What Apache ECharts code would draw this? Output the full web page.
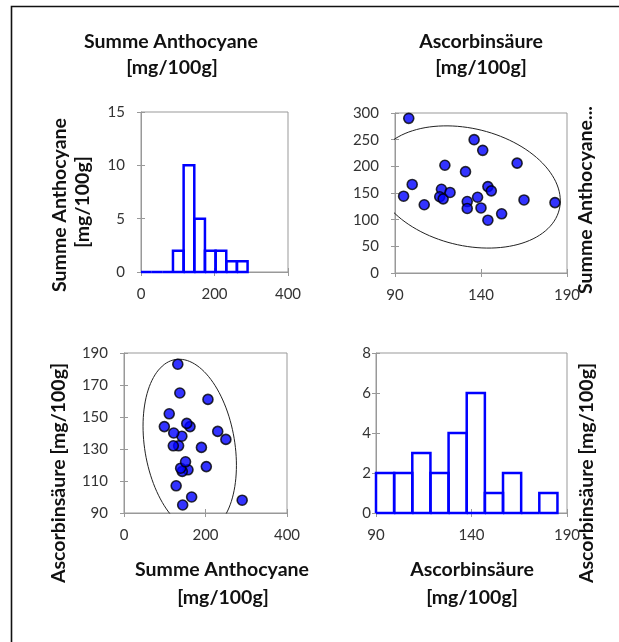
<!DOCTYPE html>
<html>
<head>
<meta charset="utf-8">
<script src="https://cdn.jsdelivr.net/npm/echarts@6/dist/echarts.min.js"></script>
<style>
  html, body { margin: 0; padding: 0; background: #fff; }
  #chart { width: 619px; height: 642px; }
</style>
</head>
<body>
<div id="chart"></div>
<script>
// one value pair per sample
const anthocyane = [290, 144, 166, 128, 157, 143, 139, 202, 151, 190, 134, 121,
                    250, 142, 122, 230, 162, 99, 154, 111, 206, 137, 132];
const ascorbin = [98, 95, 100, 107, 117, 116, 118, 119, 122, 131, 132, 132,
                  136, 138, 140, 141, 144, 144, 146, 152, 161, 165, 183];

// histogram bins (edges) and counts as drawn on the diagonal
const anthEdges = [0, 29, 58, 87, 116, 145, 174, 203, 232, 261, 290];
const anthCounts = [0, 0, 0, 2, 10, 5, 2, 2, 1, 1];
const ascEdges = [90, 99.5, 109, 118.5, 128, 137.5, 147, 156.5, 166, 175.5, 185];
const ascCounts = [2, 2, 3, 2, 4, 6, 1, 2, 0, 1];

// axis ranges per panel: [min, max, interval]
const anthRange = [0, 400, 200];
const ascRange = [90, 190, 50];
const ascRangeY = [90, 190, 20];
const anthRangeY = [0, 300, 50];
const anthCountRange = [0, 15, 5];
const ascCountRange = [0, 8, 2];

const FONT = "Lato";
const GRAY = "#999";
const LABEL = "#333";

// 95% confidence ellipse from mean and covariance of the samples
const ellipse = (xs, ys) => {
    const n = xs.length;
    const mx = xs.reduce((a, b) => a + b, 0) / n;
    const my = ys.reduce((a, b) => a + b, 0) / n;
    let sxx = 0, syy = 0, sxy = 0;
    for (let i = 0; i < n; i++) {
        sxx += (xs[i] - mx) ** 2;
        syy += (ys[i] - my) ** 2;
        sxy += (xs[i] - mx) * (ys[i] - my);
    }
    sxx /= n - 1; syy /= n - 1; sxy /= n - 1;
    const k = Math.sqrt(5.991);
    const l11 = Math.sqrt(sxx), l21 = sxy / l11, l22 = Math.sqrt(syy - l21 * l21);
    const pts = [];
    for (let i = 0; i <= 120; i++) {
        const t = i / 120 * 2 * Math.PI;
        const c = Math.cos(t), s = Math.sin(t);
        pts.push([mx + k * l11 * c, my + k * (l21 * c + l22 * s)]);
    }
    return pts;
};

const histData = (edges, counts) => counts.map((c, i) => [edges[i], edges[i + 1], c]);

const renderBin = (params, api) => {
    const x0 = api.value(0), x1 = api.value(1), c = api.value(2);
    const p = (x, y) => api.coord([x, y]);
    return {
        type: "polyline",
        shape: { points: [p(x0, 0), p(x0, c), p(x1, c), p(x1, 0), p(x0, 0)] },
        style: { fill: null, stroke: "#0000ff", lineWidth: 2.5 }
    };
};

// main axis: line, outside ticks, labels
const axisMain = (grid, range, pos, margin) => ({
    type: "value", gridIndex: grid, position: pos,
    min: range[0], max: range[1], interval: range[2],
    axisLine: { show: true, lineStyle: { color: GRAY, width: 1 } },
    axisTick: { show: true, inside: false, length: 4, lineStyle: { color: GRAY } },
    splitLine: { show: false },
    axisLabel: { fontFamily: FONT, fontSize: 15, color: LABEL, margin: margin }
});

// twin axis only for the inner half of the cross ticks
const axisTwin = (grid, range, pos) => ({
    type: "value", gridIndex: grid, position: pos,
    min: range[0], max: range[1], interval: range[2],
    axisLine: { show: false },
    axisTick: { show: true, inside: true, length: 4, lineStyle: { color: GRAY } },
    splitLine: { show: false },
    axisLabel: { show: false }
});

const titleText = (text, x, y, rot) => ({
    type: "text",
    x: x, y: y,
    rotation: rot || 0,
    style: {
        text: text, font: "bold 19.5px " + FONT, fill: "#111",
        align: "center", verticalAlign: "middle"
    }
});

const scatterStyle = { color: "#0000ff", borderColor: "#000", borderWidth: 1.6 };

const option = {
    animation: false,
    backgroundColor: "#fff",
    grid: [
        { left: 141, top: 112, width: 147, height: 160 },
        { left: 395, top: 113, width: 172, height: 160 },
        { left: 124, top: 353, width: 163, height: 160 },
        { left: 376, top: 353, width: 191, height: 160 }
    ].map(g => Object.assign({ show: true, borderColor: GRAY, borderWidth: 1 }, g)),
    xAxis: [
        axisMain(0, anthRange, "bottom", 15),
        axisMain(1, ascRange, "bottom", 15),
        axisMain(2, anthRange, "bottom", 15),
        axisMain(3, ascRange, "bottom", 15),
        axisTwin(0, anthRange, "bottom"),
        axisTwin(1, ascRange, "bottom"),
        axisTwin(2, anthRange, "bottom"),
        axisTwin(3, ascRange, "bottom")
    ],
    yAxis: [
        axisMain(0, anthCountRange, "left", 16),
        axisMain(1, anthRangeY, "left", 16),
        axisMain(2, ascRangeY, "left", 16),
        axisMain(3, ascCountRange, "left", 5),
        axisTwin(0, anthCountRange, "left"),
        axisTwin(1, anthRangeY, "left"),
        axisTwin(2, ascRangeY, "left"),
        axisTwin(3, ascCountRange, "left")
    ],
    series: [
        {
            type: "custom", xAxisIndex: 0, yAxisIndex: 0, z: 5,
            renderItem: renderBin, data: histData(anthEdges, anthCounts), clip: false
        },
        {
            type: "line", xAxisIndex: 1, yAxisIndex: 1,
            data: ellipse(ascorbin, anthocyane), showSymbol: false, clip: true,
            lineStyle: { color: "#222", width: 1 }, z: 1
        },
        {
            type: "scatter", xAxisIndex: 1, yAxisIndex: 1, symbolSize: 10,
            data: ascorbin.map((v, i) => [v, anthocyane[i]]), itemStyle: scatterStyle, z: 3
        },
        {
            type: "line", xAxisIndex: 2, yAxisIndex: 2,
            data: ellipse(anthocyane, ascorbin), showSymbol: false, clip: true,
            lineStyle: { color: "#222", width: 1 }, z: 1
        },
        {
            type: "scatter", xAxisIndex: 2, yAxisIndex: 2, symbolSize: 10,
            data: anthocyane.map((v, i) => [v, ascorbin[i]]), itemStyle: scatterStyle, z: 3
        },
        {
            type: "custom", xAxisIndex: 3, yAxisIndex: 3, z: 5,
            renderItem: renderBin, data: histData(ascEdges, ascCounts), clip: false
        }
    ],
    graphic: [
        {
            type: "polyline",
            shape: { points: [[11.5, 660], [11.5, 6.5], [660, 6.5]] },
            style: { stroke: "#111", lineWidth: 1.6, fill: null }
        },
        titleText("Summe Anthocyane", 171, 42),
        titleText("[mg/100g]", 172, 68),
        titleText("Ascorbinsäure", 481, 42),
        titleText("[mg/100g]", 481, 68),
        titleText("Summe Anthocyane", 222, 570),
        titleText("[mg/100g]", 223, 598),
        titleText("Ascorbinsäure", 472, 570),
        titleText("[mg/100g]", 472, 598),
        titleText("Summe Anthocyane", 60, 205, Math.PI / 2),
        titleText("[mg/100g]", 83, 202, Math.PI / 2),
        titleText("Ascorbinsäure [mg/100g]", 59, 473, Math.PI / 2),
        titleText("Summe Anthocyane...", 586, 200, Math.PI / 2),
        titleText("Ascorbinsäure [mg/100g]", 587, 473, Math.PI / 2)
    ]
};

window.addEventListener("load", () => {
    const chart = echarts.init(document.getElementById("chart"));
    chart.setOption(option);
});
</script>
</body>
</html>
